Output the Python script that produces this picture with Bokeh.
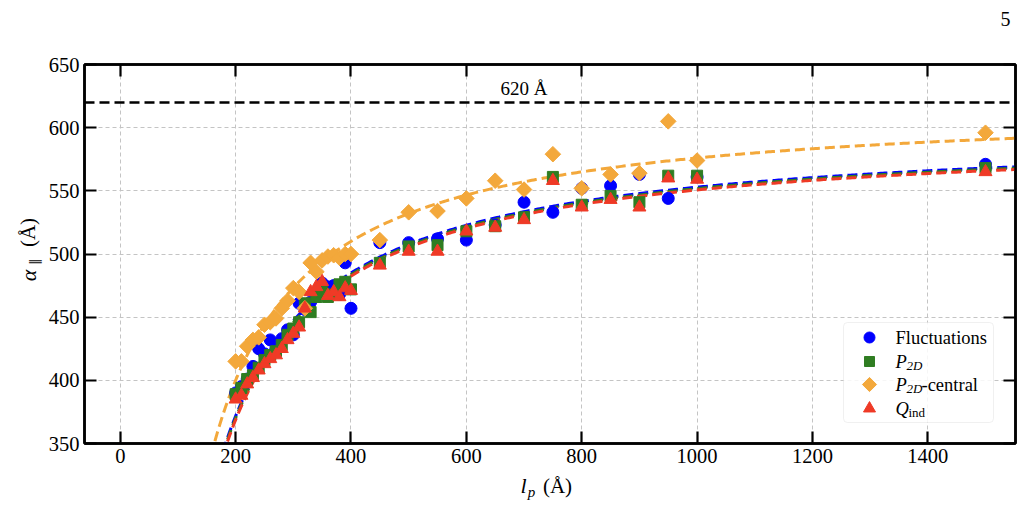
import numpy as np
from bokeh.plotting import figure
from bokeh.models import Range1d, LinearAxis, FixedTicker, Span, Label, BoxAnnotation
from bokeh.core.properties import value
from bokeh.embed import file_html
from bokeh.resources import INLINE

# ---- data ---------------------------------------------------------------
lp = [200, 210, 220, 230, 240, 250, 260, 270, 280, 290, 300, 310, 320, 330,
      340, 350, 360, 370, 380, 390, 400, 450, 500, 550, 600, 650, 700, 750,
      800, 850, 900, 950, 1000, 1500]

alpha_fluct = [390, 395, 401, 411, 425, 421, 432, 426, 433, 440, 436, 461, 456, 462,
               469, 477, 474, 475, 468, 493, 457, 509, 509, 512, 511, 523, 541, 533,
               552, 554, 563, 544, 561, 571]
alpha_p2d = [389, 394, 401, 404, 410, 416, 420, 423, 428, 436, 441, 446, 461, 454,
             466, 470, 466, 468, 476, 478, 472, 493, 506, 507, 518, 522, 529, 561,
             539, 546, 541, 562, 562, 568]
alpha_p2d_central = [415, 415, 427, 432, 434, 444, 446, 449, 457, 463, 473, 470, 457, 493,
                     486, 495, 498, 499, 497, 500, 500, 511, 533, 534, 544, 558, 551, 579,
                     552, 563, 564, 605, 574, 596]
alpha_qind = [385, 388, 397, 402, 408, 413, 417, 420, 425, 432, 437, 442, 457, 470,
              474, 478, 467, 470, 466, 473, 471, 491, 502, 502, 518, 521, 527, 558,
              537, 543, 537, 560, 559, 565]

# fitted model alpha = A - B / lp for each series
fit_asymptote = {"fluct": 598.2, "p2d": 597.2, "central": 620.0, "qind": 596.2}
fit_scale = {"fluct": 45300.0, "p2d": 45400.0, "central": 44000.0, "qind": 45500.0}

limit_value = 620
x_ticks = [0, 200, 400, 600, 800, 1000, 1200, 1400]
y_ticks = [350, 400, 450, 500, 550, 600, 650]

# ---- styling ------------------------------------------------------------
BLUE = "#0000ff"
GREEN = "#2f7d22"
ORANGE = "#f3a83b"
RED = "#ef3a26"
SERIF = "Liberation Serif"

W, H = 1025, 531
F_LEFT, F_RIGHT, F_TOP, F_BOTTOM = 84, 1015, 64, 443
X_LO, X_HI = -62, 1552
Y_LO, Y_HI = 350, 650


def px_x(px):
    return X_LO + (px - F_LEFT) / (F_RIGHT - F_LEFT) * (X_HI - X_LO)


def px_y(py):
    return Y_LO + (F_BOTTOM - py) / (F_BOTTOM - F_TOP) * (Y_HI - Y_LO)


p = figure(width=W, height=H, output_backend="svg", toolbar_location=None,
           x_range=Range1d(X_LO, X_HI), y_range=Range1d(Y_LO, Y_HI),
           min_border_left=F_LEFT, min_border_right=W - F_RIGHT,
           min_border_top=F_TOP, min_border_bottom=H - F_BOTTOM)
p.background_fill_color = "white"
p.border_fill_color = "white"
p.outline_line_color = "black"
p.outline_line_width = 2.5

# axes
for ax in (p.xaxis[0], p.yaxis[0]):
    ax.axis_line_width = 2.5
    ax.major_tick_line_width = 2.2
    ax.major_tick_in = 12
    ax.major_tick_out = 0
    ax.minor_tick_line_color = None
    ax.major_label_text_font = SERIF
    ax.major_label_text_font_size = "20.5px"
    ax.major_label_text_color = "black"
    ax.major_label_standoff = 5
p.xaxis[0].ticker = FixedTicker(ticks=x_ticks)
p.yaxis[0].ticker = FixedTicker(ticks=y_ticks)

top_axis = LinearAxis(ticker=FixedTicker(ticks=x_ticks), major_label_overrides={t: "" for t in x_ticks})
right_axis = LinearAxis(ticker=FixedTicker(ticks=y_ticks), major_label_overrides={t: "" for t in y_ticks})
for ax in (top_axis, right_axis):
    ax.axis_line_width = 2.5
    ax.major_tick_line_width = 2.2
    ax.major_tick_in = 12
    ax.major_tick_out = 0
    ax.minor_tick_line_color = None
    ax.major_label_standoff = 0
p.add_layout(top_axis, "above")
p.add_layout(right_axis, "right")

p.xgrid.ticker = FixedTicker(ticks=x_ticks)
p.ygrid.ticker = FixedTicker(ticks=y_ticks)
for g in (p.xgrid[0], p.ygrid[0]):
    g.grid_line_color = "#c4c4c4"
    g.grid_line_dash = "4 3"
    g.grid_line_width = 1

# fitted curves
xs_fit = np.linspace(140, X_HI, 400)
for key, color in (("central", ORANGE), ("fluct", BLUE), ("p2d", GREEN), ("qind", RED)):
    ys_fit = fit_asymptote[key] - fit_scale[key] / xs_fit
    p.line(xs_fit, ys_fit, line_color=color, line_width=3, line_dash="10 5")

# measured points
p.scatter(lp, alpha_fluct, marker="circle", size=12, fill_color=BLUE, line_color=BLUE)
p.scatter(lp, alpha_p2d, marker="square", size=11, fill_color=GREEN, line_color=GREEN)
p.scatter(lp, alpha_p2d_central, marker="square", angle=np.pi / 4, size=11,
          fill_color=ORANGE, line_color=ORANGE)
p.scatter(lp, alpha_qind, marker="triangle", size=13, fill_color=RED, line_color=RED)

# limiting value
p.add_layout(Span(location=limit_value, dimension="width", line_color="black",
                  line_width=2.5, line_dash="10 5"))
p.add_layout(Label(x=700, y=limit_value + 3, text=f"{limit_value} Å", text_align="center",
                   text_baseline="bottom", text_font=SERIF, text_font_size="19px",
                   text_color="black"))

# legend box with hand-set subscripts
p.add_layout(BoxAnnotation(left=px_x(843), right=px_x(993), top=px_y(322), bottom=px_y(422),
                           fill_color="white", fill_alpha=0.85, line_color="#cccccc",
                           line_width=1, border_radius=4))
mx = px_x(869)
rows = [337, 361, 384, 408]
legend_marks = [("circle", 11, BLUE, 0.0), ("square", 10, GREEN, 0.0),
                ("square", 10, ORANGE, np.pi / 4), ("triangle", 12, RED, 0.0)]
for (mk, sz, col, ang), ry in zip(legend_marks, rows):
    r = p.scatter([mx], [px_y(ry)], marker=mk, size=sz, angle=ang, fill_color=col, line_color=col)
    r.level = "overlay"


def txt(px, py, s, size="18.5px", style="normal", align="left", angle=0.0):
    # text glyphs on the overlay level are painted without the frame clip
    r = p.text(x=[px_x(px)], y=[px_y(py)], text=[s], angle=angle,
               text_font=value(SERIF), text_font_size=value(size),
               text_font_style=value(style), text_align=value(align),
               text_baseline=value("middle"), text_color="black")
    r.level = "overlay"


txt(895, rows[0], "Fluctuations")
txt(895, rows[1], "P", style="italic")
txt(906, rows[1] + 4, "2D", size="13px", style="italic")
txt(895, rows[2], "P", style="italic")
txt(906, rows[2] + 4, "2D", size="13px", style="italic")
txt(921, rows[2], "-central")
txt(895, rows[3], "Q", style="italic")
txt(908, rows[3] + 4, "ind", size="13px")

# axis titles
txt(523, 485, "l", size="22px", style="italic", align="center")
txt(531, 491, "p", size="15px", style="italic", align="center")
txt(557, 485, "(Å)", size="21px", align="center")

txt(28, 275, "α", size="22px", style="italic", align="center", angle=np.pi / 2)
txt(34, 261, "∥", size="13px", align="center", angle=np.pi / 2)
txt(27, 232, "(Å)", size="21px", align="center", angle=np.pi / 2)

# page number
txt(1005, 18, "5", size="20px", align="center")

open("out.html", "w").write(file_html(p, INLINE))
